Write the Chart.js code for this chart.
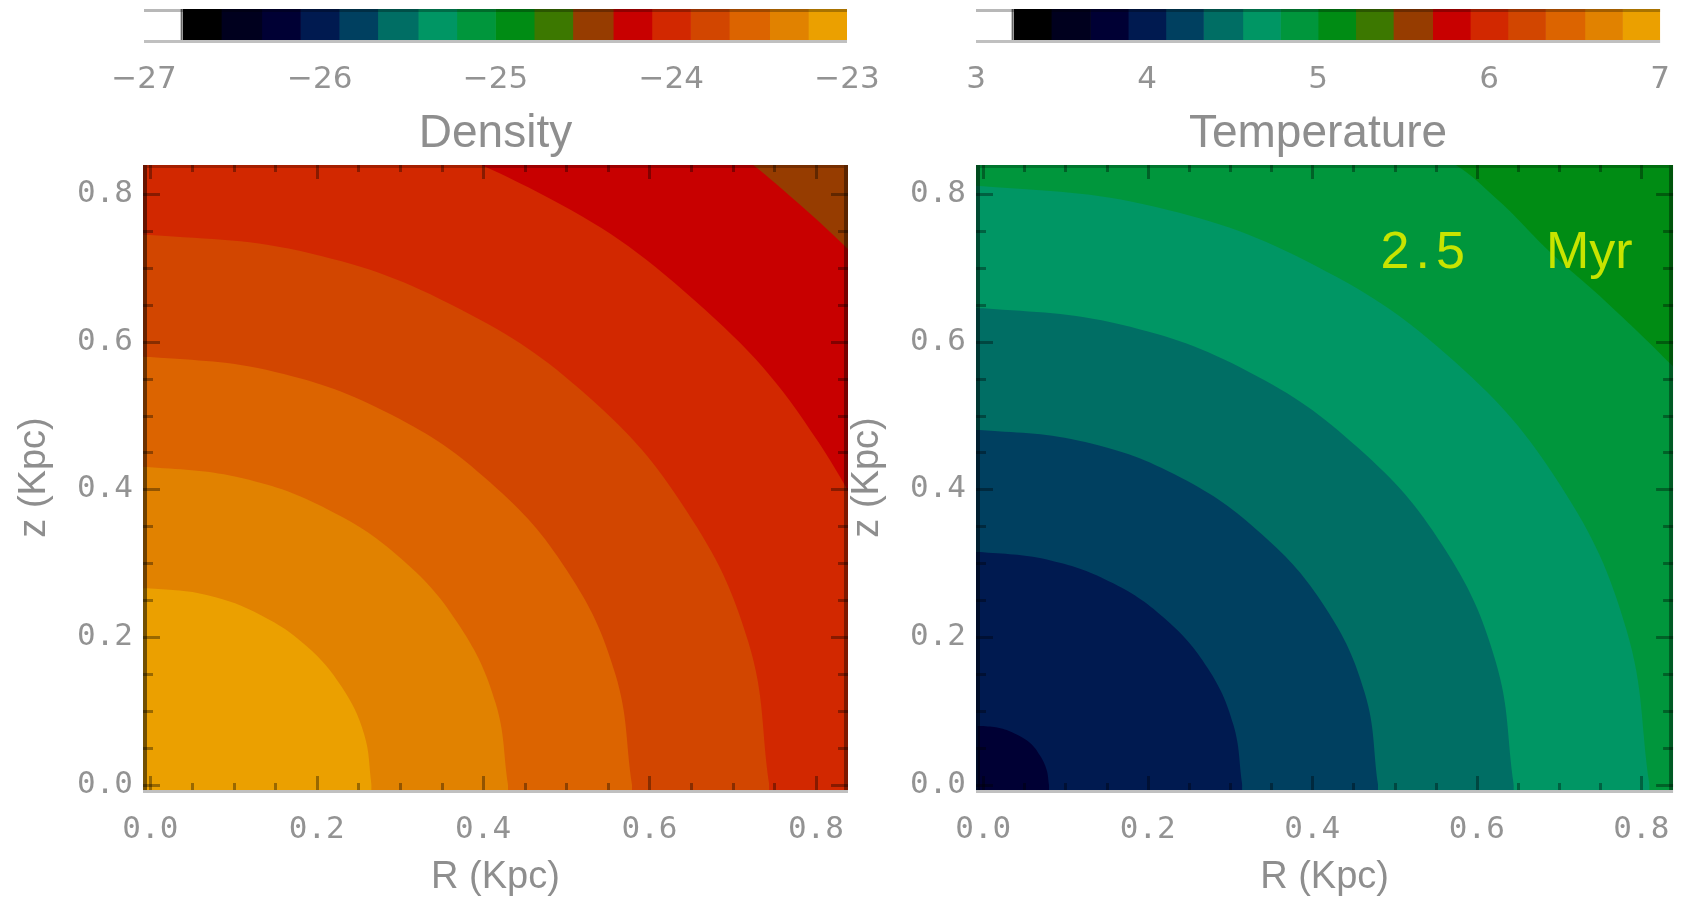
<!DOCTYPE html>
<html>
<head>
<meta charset="utf-8">
<title>Density and temperature maps</title>
<script src="https://cdn.jsdelivr.net/npm/chart.js@4/dist/chart.umd.min.js"></script>
<style>
  html, body { margin: 0; padding: 0; background: #ffffff; }
  #wrap { position: relative; width: 1691px; height: 900px; overflow: hidden; }
  #wrap canvas { position: absolute; left: 0; top: 0; }
</style>
</head>
<body>
<div id="wrap">
  <canvas id="densityBar" width="1691" height="900"></canvas>
  <canvas id="temperatureBar" width="1691" height="900"></canvas>
  <canvas id="densityMap" width="1691" height="900"></canvas>
  <canvas id="temperatureMap" width="1691" height="900"></canvas>
</div>
<script>
// ---- colour bar levels (log10 values) ----
const densityLevels = [-27.00, -26.78, -26.56, -26.33, -26.11, -25.89, -25.67, -25.44, -25.22,
                       -25.00, -24.78, -24.56, -24.33, -24.11, -23.89, -23.67, -23.44, -23.22, -23.00];
const temperatureLevels = [3.00, 3.22, 3.44, 3.67, 3.89, 4.11, 4.33, 4.56, 4.78,
                           5.00, 5.22, 5.44, 5.67, 5.89, 6.11, 6.33, 6.56, 6.78, 7.00];
const densityTicks = [-27, -26, -25, -24, -23];
const temperatureTicks = [3, 4, 5, 6, 7];

// ---- map axes (kpc) ----
const axisTicks = [0.0, 0.2, 0.4, 0.6, 0.8];
const axisMinorTicks = [0.05, 0.10, 0.15, 0.25, 0.30, 0.35, 0.45, 0.50, 0.55, 0.65, 0.70, 0.75];

// ---- density contours [R, z], innermost first ----
const densityEdge1 = [[-0.023, 0.265], [0, 0.266], [0.069, 0.257], [0.133, 0.230], [0.188, 0.188], [0.230, 0.133], [0.257, 0.069], [0.266, 0]];
const densityEdge2 = [[-0.037, 0.428], [0, 0.430], [0.111, 0.415], [0.215, 0.372], [0.304, 0.304], [0.372, 0.215], [0.415, 0.111], [0.430, 0]];
const densityEdge3 = [[-0.050, 0.577], [0, 0.579], [0.150, 0.559], [0.290, 0.501], [0.409, 0.409], [0.501, 0.290], [0.559, 0.150], [0.579, 0]];
const densityEdge4 = [[-0.065, 0.741], [0, 0.744], [0.193, 0.719], [0.372, 0.644], [0.526, 0.526], [0.644, 0.372], [0.719, 0.193], [0.744, 0]];
const densityEdge5 = [[-0.081, 0.923], [0, 0.927], [0.240, 0.895], [0.464, 0.803], [0.655, 0.655], [0.803, 0.464], [0.895, 0.240], [0.927, 0]];
const densityEdge6 = [[-0.097, 1.104], [0, 1.108], [0.287, 1.070], [0.554, 0.960], [0.783, 0.783], [0.960, 0.554], [1.070, 0.287], [1.108, 0]];
// colour-bar band inside each contour, then the band outside the last one
const densityBands = [17, 16, 15, 14, 13, 12, 11];

// ---- temperature contours [R, z], innermost first ----
const temperatureEdge1 = [[-0.007, 0.080], [0, 0.080], [0.021, 0.077], [0.040, 0.069], [0.057, 0.057], [0.069, 0.040], [0.077, 0.021], [0.080, 0]];
const temperatureEdge2 = [[-0.027, 0.314], [0, 0.315], [0.082, 0.304], [0.158, 0.273], [0.223, 0.223], [0.273, 0.158], [0.304, 0.082], [0.315, 0]];
const temperatureEdge3 = [[-0.042, 0.478], [0, 0.480], [0.124, 0.464], [0.240, 0.416], [0.339, 0.339], [0.416, 0.240], [0.464, 0.124], [0.480, 0]];
const temperatureEdge4 = [[-0.056, 0.643], [0, 0.645], [0.167, 0.623], [0.323, 0.559], [0.456, 0.456], [0.559, 0.323], [0.623, 0.167], [0.645, 0]];
const temperatureEdge5 = [[-0.071, 0.807], [0, 0.810], [0.210, 0.782], [0.405, 0.702], [0.573, 0.573], [0.702, 0.405], [0.782, 0.210], [0.810, 0]];
const temperatureEdge6 = [[-0.100, 1.000], [0.250, 0.960], [0.450, 0.900], [0.565, 0.845], [0.627, 0.790], [0.690, 0.720],
                          [0.755, 0.656], [0.839, 0.566], [0.930, 0.460], [1.000, 0.300], [1.050, 0]];
const temperatureBands = [3, 4, 5, 6, 7, 8, 9];

const snapshotAge = 2.5;
const ageUnit = 'Myr';

// ---- styling ----
const bandColors = ['#ffffff', '#000000', '#00001e', '#000034', '#001a50', '#004060', '#006e64', '#009664',
                    '#00963c', '#008c14', '#3c7800', '#963c00', '#c80000', '#d22800', '#d24600', '#dc6400',
                    '#e18200', '#eba000'];
const tickGrey = '#939393';
const titleGrey = '#8e8e8e';
const tickFont = { family: '"DejaVu Sans Mono", monospace', size: 31 };
const barTickFont = { family: '"DejaVu Sans", sans-serif', size: 31 };
const titleFont = { family: '"Liberation Sans", Arial, sans-serif', size: 46, lineHeight: 1.1 };
const axisTitleFont = { family: '"Liberation Sans", Arial, sans-serif', size: 38 };
const R_RANGE = [-0.0088, 0.8386];
const Z_RANGE = [-0.0065, 0.8388];

Chart.defaults.animation = false;
Chart.defaults.events = [];
Chart.defaults.plugins.legend.display = false;
Chart.defaults.plugins.tooltip.enabled = false;

function minusLabel(v) {
  return v < 0 ? '\u2212' + Math.abs(v) : String(v);
}

// frame of a colour bar: shaded top edge, grey base line, dark divider after the white band
const barFrame = {
  id: 'barFrame',
  afterDatasetsDraw(chart, args, opts) {
    const a = chart.chartArea, c = chart.ctx, x = chart.scales.x;
    c.save();
    c.fillStyle = 'rgba(0,0,0,0.28)';
    c.fillRect(a.left, a.top, a.width, 3);
    c.fillStyle = '#c0c0c0';
    c.fillRect(a.left, a.bottom, a.width, 3);
    const d = x.getPixelForValue(opts.divider);
    c.fillStyle = 'rgba(0,0,0,0.6)';
    c.fillRect(d - 2, a.top, 2, a.height);
    c.restore();
  }
};

function makeColourBar(id, levels, ticks, title, left, right) {
  const datasets = levels.slice(0, -1).map((lo, i) => ({
    data: [[lo, levels[i + 1]]],
    backgroundColor: bandColors[i],
    borderWidth: 0,
    barPercentage: 1,
    categoryPercentage: 1,
    grouped: false
  }));
  return new Chart(document.getElementById(id), {
    type: 'bar',
    data: { labels: [title], datasets },
    options: {
      responsive: false,
      indexAxis: 'y',
      layout: { padding: { left: left, right: 1691 - right, top: 9, bottom: 740 } },
      plugins: { barFrame: { divider: levels[1] } },
      scales: {
        x: {
          type: 'linear',
          min: levels[0],
          max: levels[levels.length - 1],
          afterFit: s => { s.height = 120; },
          afterBuildTicks: s => { s.ticks = ticks.map(v => ({ value: v })); },
          ticks: { font: barTickFont, color: tickGrey, padding: 21, maxRotation: 0, autoSkip: false,
                   callback: v => minusLabel(v) },
          grid: { display: false, drawTicks: false },
          border: { display: false },
          title: { display: true, text: title, font: titleFont, color: titleGrey, padding: { top: 0, bottom: 0 } }
        },
        y: { display: false }
      }
    },
    plugins: [barFrame]
  });
}

// clip fills to the plot box and paint the outermost band underneath
const mapClip = {
  id: 'mapClip',
  beforeDatasetsDraw(chart, args, opts) {
    const a = chart.chartArea, c = chart.ctx;
    c.save();
    c.beginPath();
    c.rect(a.left, a.top, a.width, a.height);
    c.clip();
    c.fillStyle = opts.background;
    c.fillRect(a.left, a.top, a.width, a.height);
  },
  afterDatasetsDraw(chart) {
    chart.ctx.restore();
  }
};

// box edges, inward ticks on all four sides, and the optional time stamp
const mapFrame = {
  id: 'mapFrame',
  afterDraw(chart, args, opts) {
    const a = chart.chartArea, c = chart.ctx, xs = chart.scales.x, ys = chart.scales.y;
    c.save();
    c.fillStyle = 'rgba(0,0,0,0.5)';
    c.fillRect(a.left, a.top, 4, a.height);
    c.fillStyle = 'rgba(0,0,0,0.4)';
    c.fillRect(a.right - 4, a.top, 4, a.height);
    c.fillStyle = 'rgba(0,0,0,0.22)';
    c.fillRect(a.left + 4, a.top, a.width - 8, 3);
    c.fillStyle = '#c0c0c0';
    c.fillRect(a.left, a.bottom, a.width, 3);

    c.fillStyle = 'rgba(0,0,0,0.35)';
    const drawTicks = (values, lenX, lenY) => {
      values.forEach(v => {
        const px = Math.round(xs.getPixelForValue(v));
        c.fillRect(px - 1, a.bottom - lenX, 3, lenX);
        c.fillRect(px - 1, a.top, 3, lenX);
        const py = Math.round(ys.getPixelForValue(v));
        c.fillRect(a.left, py - 1, lenY, 3);
        c.fillRect(a.right - lenY, py - 1, lenY, 3);
      });
    };
    drawTicks(axisTicks, 14, 17);
    drawTicks(axisMinorTicks, 7, 10);

    if (opts.stamp) {
      c.fillStyle = '#c8e400';
      c.font = '52px "Liberation Sans", Arial, sans-serif';
      c.textBaseline = 'alphabetic';
      c.textAlign = 'left';
      const base = ys.getPixelForValue(opts.stamp.z);
      c.letterSpacing = '6px';
      c.fillText(String(opts.stamp.value), xs.getPixelForValue(opts.stamp.valueR), base);
      c.letterSpacing = '0px';
      c.fillText(opts.stamp.unit, xs.getPixelForValue(opts.stamp.unitR), base);
    }
    c.restore();
  }
};

function makeMap(id, edges, bands, padLeft, padRight, stamp) {
  const datasets = edges.map((pts, i) => ({
    data: pts.map(([x, y]) => ({ x, y })),
    backgroundColor: bandColors[bands[i]],
    borderColor: 'transparent',
    borderWidth: 0,
    pointRadius: 0,
    fill: 'start',
    tension: 0.4
  }));
  return new Chart(document.getElementById(id), {
    type: 'line',
    data: { datasets },
    options: {
      responsive: false,
      layout: { padding: { left: padLeft, right: padRight, top: 165, bottom: 0 } },
      elements: { line: { capBezierPoints: false } },
      plugins: {
        mapClip: { background: bandColors[bands[bands.length - 1]] },
        mapFrame: { stamp: stamp }
      },
      scales: {
        x: {
          type: 'linear',
          min: R_RANGE[0],
          max: R_RANGE[1],
          afterFit: s => { s.height = 110; },
          afterBuildTicks: s => { s.ticks = axisTicks.map(v => ({ value: v })); },
          ticks: { font: tickFont, color: tickGrey, padding: 21, maxRotation: 0, autoSkip: false,
                   callback: v => v.toFixed(1) },
          grid: { display: false, drawTicks: false },
          border: { display: false },
          title: { display: true, text: 'R (Kpc)', font: axisTitleFont, color: titleGrey, padding: { top: 0, bottom: 0 } }
        },
        y: {
          type: 'linear',
          min: Z_RANGE[0],
          max: Z_RANGE[1],
          afterFit: s => { s.width = 143; },
          afterBuildTicks: s => { s.ticks = axisTicks.map(v => ({ value: v })); },
          ticks: { font: tickFont, color: tickGrey, padding: 10, autoSkip: false,
                   callback: v => v.toFixed(1) },
          grid: { display: false, drawTicks: false },
          border: { display: false },
          title: { display: true, text: 'z (Kpc)', font: axisTitleFont, color: titleGrey, padding: { top: 12, bottom: 0 } }
        }
      }
    },
    plugins: [mapClip, mapFrame]
  });
}

makeColourBar('densityBar', densityLevels, densityTicks, 'Density', 144, 847);
makeColourBar('temperatureBar', temperatureLevels, temperatureTicks, 'Temperature', 976, 1676);

makeMap('densityMap',
  [densityEdge1, densityEdge2, densityEdge3, densityEdge4, densityEdge5, densityEdge6],
  densityBands, 0, 843, null);
makeMap('temperatureMap',
  [temperatureEdge1, temperatureEdge2, temperatureEdge3, temperatureEdge4, temperatureEdge5, temperatureEdge6],
  temperatureBands, 833, 15,
  { value: snapshotAge, unit: ageUnit, valueR: 0.483, unitR: 0.684, z: 0.70 });
</script>
</body>
</html>
